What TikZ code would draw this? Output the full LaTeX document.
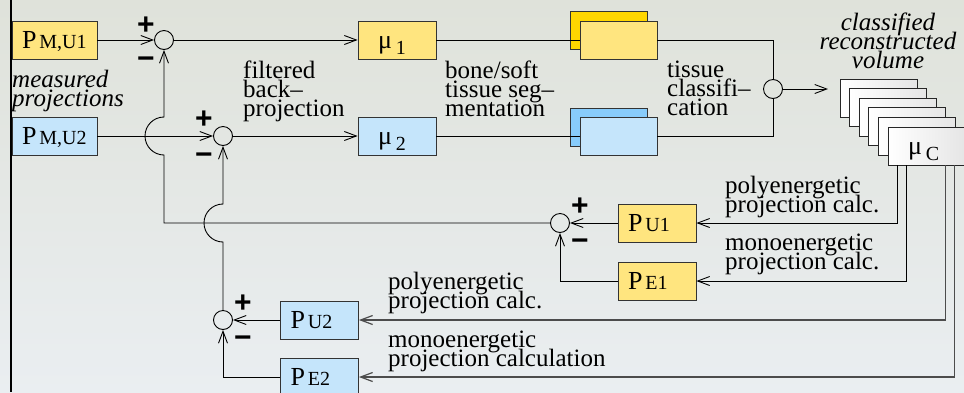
\documentclass[tikz,border=0pt]{standalone}
\usepackage{fontspec}
\setmainfont{Liberation Serif}
\newfontfamily\capfont{Liberation Serif}
\newfontfamily\signfont{Liberation Sans}
\usetikzlibrary{arrows.meta,calc}

\definecolor{lightyellow}{HTML}{FFE57F}
\definecolor{deepyellow}{HTML}{FFD600}
\definecolor{lightblue}{HTML}{C5E5FB}
\definecolor{deepblue}{HTML}{88CCFB}
\definecolor{bgtop}{HTML}{DFE2DA}
\definecolor{bgmid}{HTML}{F2F3F1}
\definecolor{bgbot}{HTML}{EAEEF1}

% box captions: a large P with a smaller index on the same baseline,
% and a mu with a lowered index
\newcommand\Plab[1]{{\capfont\fontsize{26}{26}\selectfont P}\kern3pt{\capfont\fontsize{20}{20}\selectfont #1}}
\newcommand\Mulab[1]{{\capfont\fontsize{26}{26}\selectfont μ}\kern4pt\raisebox{-6pt}{\capfont\fontsize{20}{20}\selectfont #1}}
\newcommand\signsel{\signfont\bfseries\fontsize{30}{30}\selectfont}
% tightly spaced multi-line captions
\newcommand\lblfont{\capfont\fontsize{25}{19}\selectfont\lineskiplimit=-40pt\relax\lineskip=0pt\relax}

\begin{document}
\begin{tikzpicture}[x=1pt,y=1pt,
  >={Straight Barb[length=12pt,width=9pt]},
  every node/.style={inner sep=0pt},
  conn/.style={draw=black, line width=0.9pt},
  connfar/.style={draw=black!70, line width=1.2pt},
  sum/.style={circle, draw=black, line width=0.9pt, minimum size=19pt},
  sign/.style={font=\signsel},
  pbox/.style={draw=black!80, line width=0.8pt, minimum height=38pt,
    text height=18pt, text depth=2pt, inner xsep=10pt, align=left},
  yelbox/.style={pbox, fill=lightyellow},
  bluebox/.style={pbox, fill=lightblue},
  segbox/.style={draw=black!80, line width=0.8pt, minimum width=77pt, minimum height=38pt},
  stackbox/.style={draw=black!85, line width=0.8pt, minimum width=77pt, minimum height=38pt,
    left color=white, right color=black!10},
  lbl/.style={font=\lblfont, align=left, anchor=north west},
  ilbl/.style={lbl, font=\lblfont\itshape}
]
\useasboundingbox (0,0) rectangle (964,-392);
\shade[top color=bgtop, middle color=bgmid, bottom color=bgbot] (0,0) rectangle (964,-392);
\draw[line width=2.5pt] (11,0) -- (11,-392);

% measured projections
\node[yelbox, minimum width=85pt, text width=65pt] (pm1) at (54.5,-40) {\Plab{M,U1}};
\node[bluebox, minimum width=85pt, text width=65pt] (pm2) at (54.5,-136) {\Plab{M,U2}};

% summing points
\node[sum] (c1) at (164,-40) {};
\node[sum] (c2) at (223,-136) {};
\node[sum] (c3) at (560,-223) {};
\node[sum] (c4) at (223,-320) {};
\node[sum] (c5) at (773,-89) {};

\node[sign] (c1p) at ($(c1)+(-18,14)$) {+};
\node[sign] (c1m) at ($(c1)+(-18,-23)$) {−};
\node[sign] (c2p) at ($(c2)+(-19,16)$) {+};
\node[sign] (c2m) at ($(c2)+(-19,-23)$) {−};
\node[sign] (c3p) at ($(c3)+(20,16)$) {+};
\node[sign] (c3m) at ($(c3)+(20,-22)$) {−};
\node[sign] (c4p) at ($(c4)+(20,16)$) {+};
\node[sign] (c4m) at ($(c4)+(20,-22)$) {−};

% reconstructions
\node[yelbox, text width=38pt, inner xsep=20pt] (mu1) at (397,-40) {\Mulab{1}};
\node[bluebox, text width=38pt, inner xsep=20pt] (mu2) at (397,-136) {\Mulab{2}};

% segmented volumes
\node[segbox, fill=deepyellow] (s1b) at (608.5,-30) {};
\node[segbox, fill=lightyellow] (s1) at (618.5,-40) {};
\node[segbox, fill=deepblue] (s2b) at (608.5,-127) {};
\node[segbox, fill=lightblue] (s2) at (618.5,-136) {};

% stack of classified slices
\foreach \k in {0,...,4}
  \node[stackbox] (v\k) at ({878.5+9.6*\k},{-98-9.6*\k}) {};
\node[stackbox, text height=18pt, text depth=2pt, text width=37pt, inner xsep=20pt, align=left]
  (muC) at (926.5,-146) {\Mulab{C}};

% reprojections
\node[yelbox, minimum width=78pt, text width=58pt] (pu1) at (657,-223) {\Plab{U1}};
\node[yelbox, minimum width=78pt, text width=58pt] (pe1) at (657,-281) {\Plab{E1}};
\node[bluebox, minimum width=78pt, text width=58pt] (pu2) at (319.5,-320) {\Plab{U2}};
\node[bluebox, minimum width=78pt, text width=58pt] (pe2) at (319.5,-377) {\Plab{E2}};

% labels
\node[ilbl] (tmeas) at (12,-70) {measured\\projections};
\node[lbl] (tfbp) at (243,-61) {filtered\\back–\\projection};
\node[lbl] (tseg) at (445,-61) {bone/soft\\tissue seg–\\mentation};
\node[lbl] (tcls) at (667,-61) {tissue\\classifi–\\cation};
\node[ilbl, anchor=north, align=center] (tvol) at (888,-12.5) {classified\\reconstructed\\volume};
\node[lbl] (tpoly1) at (725,-176) {polyenergetic\\projection calc.};
\node[lbl] (tmono1) at (725,-234) {monoenergetic\\projection calc.};
\node[lbl] (tpoly2) at (388,-272) {polyenergetic\\projection calc.};
\node[lbl] (tmono2) at (388,-331) {monoenergetic\\projection calculation};

% forward path
\draw[conn,->] (pm1.east) -- (c1.west);
\draw[conn,->] (c1.east) -- (mu1.west);
\draw[conn,->] (pm2.east) -- (c2.west);
\draw[conn,->] (c2.east) -- (mu2.west);
\draw[conn] (mu1.east) -- (s1.west);
\draw[conn] (mu2.east) -- (s2.west);
\draw[conn] (s1.east) -| (c5.north);
\draw[conn] (s2.east) -| (c5.south);
\coordinate (vin) at (828,-89);
\draw[conn,->] (c5.east) -- (vin);

% feedback path
\coordinate (o1) at ($(muC.south west)+(10,0)$);
\coordinate (o2) at ($(muC.south west)+(19,0)$);
\coordinate (o3) at ($(muC.south west)+(58,0)$);
\coordinate (o4) at ($(muC.south west)+(67,0)$);
\draw[conn,->] (o1) |- (pu1.east);
\draw[conn,->] (o2) |- (pe1.east);
\draw[connfar,->] (o3) |- (pu2.east);
\draw[connfar,->] (o4) |- (pe2.east);
\draw[conn,->] (pu1.west) -- (c3.east);
\draw[conn,->] (pe1.west) -| (c3.south);
\draw[conn,->] (pu2.west) -- (c4.east);
\draw[conn,->] (pe2.west) -| (c4.south);

% error signals back to the input sums, hopping over crossing lines
\coordinate (j1) at (c1 |- pm2);
\coordinate (j2) at (c2 |- c3);
\draw[conn,->] (c3.west) -| ($(j1)+(0,-19)$) arc[start angle=-90, end angle=-270, radius=19] -- (c1.south);
\draw[conn,->] (c4.north) -- ($(j2)+(0,-19)$) arc[start angle=-90, end angle=-270, radius=19] -- (c2.south);
\end{tikzpicture}
\end{document}
